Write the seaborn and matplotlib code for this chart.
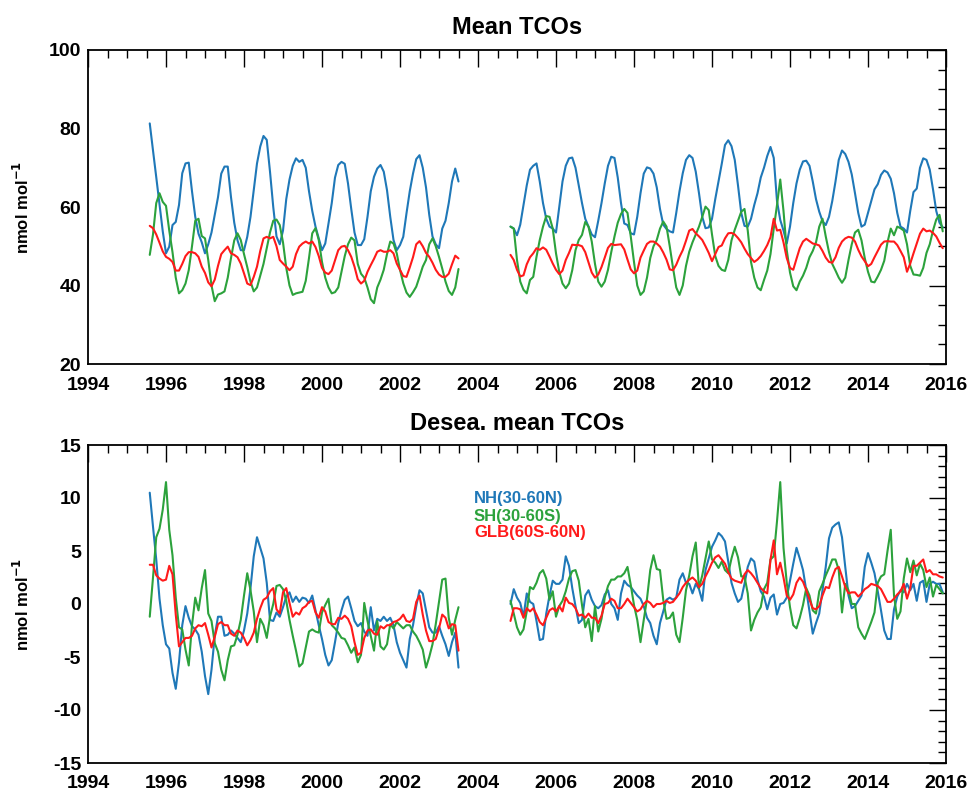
import numpy as np
import pandas as pd
import matplotlib
matplotlib.use("Agg")
import matplotlib.pyplot as plt
import seaborn as sns
from matplotlib.ticker import MultipleLocator

# ---------------- data (monthly means) ----------------
seg1_start, seg1_n = "1995-08", 96   # Aug 1995 .. Jul 2003
seg2_start, seg2_n = "2004-11", 134  # Nov 2004 .. Dec 2015

# Top panel: mean TCOs (nmol mol-1)
nh_mean_1 = [81.3, 74.4, 67.6, 60.7, 53.8, 48.2, 49.9, 55.4, 56.2, 60.5, 68.6, 71.1,
             71.3, 64.0, 57.5, 53.2, 51.0, 48.2, 50.5, 53.5, 58.0, 62.5, 68.5, 70.3,
             70.3, 62.5, 56.0, 51.5, 49.0, 49.0, 52.4, 57.5, 64.3, 71.1, 75.4, 78.1,
             77.1, 69.0, 60.0, 52.5, 50.5, 54.0, 62.0, 67.0, 70.5, 72.4, 71.5, 72.0,
             70.0, 64.0, 59.0, 55.0, 52.0, 49.0, 50.7, 55.8, 61.0, 67.5, 70.7, 71.5,
             71.0, 66.0, 59.5, 53.5, 50.3, 50.3, 51.8, 57.5, 64.0, 67.7, 69.8, 70.7,
             69.0, 64.3, 57.5, 51.6, 49.0, 50.3, 52.4, 58.4, 64.0, 68.5, 72.2, 73.2,
             70.0, 65.0, 58.0, 52.5, 50.5, 49.5, 54.5, 56.5, 61.0, 66.5, 69.8, 66.5]
sh_mean_1 = [47.8, 53.0, 61.0, 63.5, 61.3, 60.3, 54.0, 48.5, 42.0, 38.0, 38.8, 40.5,
             43.9, 50.0, 56.5, 57.0, 52.6, 52.0, 46.5, 40.0, 36.0, 37.7, 38.0, 38.5,
             42.0, 47.0, 51.5, 53.3, 51.6, 48.0, 44.7, 41.0, 38.5, 39.5, 42.5, 45.5,
             49.5, 53.5, 56.5, 56.8, 55.4, 51.0, 44.5, 40.0, 37.6, 38.0, 38.2, 38.4,
             41.2, 47.0, 53.3, 54.6, 51.6, 46.0, 42.0, 39.5, 38.0, 38.3, 39.5, 43.5,
             47.5, 50.5, 52.2, 51.5, 45.5, 43.0, 42.0, 39.5, 36.5, 35.5, 39.5, 41.5,
             44.0, 48.0, 51.2, 50.7, 48.2, 44.0, 40.6, 38.2, 37.1, 38.3, 39.7, 42.2,
             44.8, 46.5, 50.5, 52.0, 50.0, 47.3, 44.3, 41.0, 38.6, 37.6, 39.5, 44.2]
glb_mean_1 = [55.2, 54.6, 53.0, 50.9, 48.7, 47.3, 46.8, 46.0, 43.8, 43.8, 45.5, 47.5,
              48.5, 48.5, 48.2, 47.3, 44.8, 43.2, 40.8, 39.8, 41.5, 45.0, 48.0, 49.0,
              49.9, 48.2, 47.8, 47.2, 45.6, 43.1, 40.5, 40.1, 42.2, 44.8, 48.8, 52.0,
              52.4, 52.0, 52.4, 50.0, 46.5, 45.6, 44.8, 43.9, 44.8, 48.0, 49.9, 50.7,
              51.2, 50.7, 51.2, 49.8, 47.5, 44.5, 43.3, 42.9, 43.8, 46.4, 49.0, 49.9,
              50.1, 49.0, 47.3, 44.8, 41.6, 40.5, 41.2, 43.5, 45.2, 46.8, 48.6, 49.0,
              48.6, 48.6, 49.0, 48.2, 45.6, 44.0, 42.4, 42.2, 44.6, 47.2, 50.5, 51.3,
              50.0, 48.3, 47.3, 45.8, 44.0, 42.8, 42.2, 42.2, 43.0, 45.4, 47.6, 46.9]

nh_mean_2 = [55.0, 54.5, 52.8, 55.5, 60.5, 65.5, 69.5, 70.5, 71.1, 66.5, 61.0, 57.0,
             55.0, 54.5, 53.5, 60.0, 66.5, 70.5, 72.4, 72.6, 70.0, 65.5, 61.0, 57.0,
             55.0, 53.0, 52.3, 56.5, 61.0, 66.0, 70.5, 72.8, 72.5, 67.5, 61.0, 55.8,
             55.4, 53.3, 53.0, 57.5, 63.5, 68.5, 70.1, 69.8, 68.5, 65.0, 59.5, 55.5,
             54.4, 53.8, 53.5, 58.5, 64.0, 68.6, 72.0, 73.2, 72.5, 69.0, 63.5, 57.5,
             54.6, 54.8, 57.0, 62.0, 66.5, 71.0, 75.8, 77.0, 75.5, 72.0, 65.5, 58.5,
             55.2, 55.0, 57.0, 60.5, 63.5, 67.5, 70.0, 73.0, 75.3, 72.5, 61.5, 56.7,
             54.0, 50.7, 55.0, 61.0, 66.0, 69.5, 71.6, 71.8, 70.5, 66.5, 62.0, 58.8,
             56.4, 55.4, 57.5, 61.5, 66.5, 72.0, 74.4, 73.5, 71.5, 68.3, 63.5, 58.5,
             55.0, 55.5, 58.5, 61.5, 64.5, 65.8, 68.2, 69.3, 68.8, 67.2, 63.5, 58.5,
             55.0, 54.5, 53.5, 59.0, 63.8, 64.7, 70.0, 72.4, 72.0, 69.5, 64.5, 59.0,
             56.0, 54.8]
sh_mean_2 = [55.0, 54.5, 46.5, 41.0, 38.9, 38.0, 41.4, 42.2, 47.3, 51.6, 55.0, 57.7,
             57.5, 54.5, 48.2, 43.5, 40.5, 39.3, 40.5, 43.9, 49.0, 51.6, 52.9, 56.2,
             55.0, 51.2, 45.5, 41.0, 39.7, 41.0, 44.0, 48.5, 52.5, 56.0, 58.2, 59.5,
             58.5, 52.5, 46.0, 40.0, 37.6, 38.5, 42.0, 47.0, 50.0, 51.6, 54.5, 56.3,
             55.0, 50.0, 44.5, 39.5, 37.6, 40.0, 45.0, 48.6, 51.0, 53.0, 55.0, 57.5,
             60.1, 59.2, 53.0, 47.5, 45.0, 44.0, 43.7, 46.5, 51.5, 54.2, 56.5, 58.8,
             59.5, 54.0, 46.0, 42.0, 39.5, 38.8, 41.4, 43.8, 48.0, 54.5, 60.5, 67.0,
             59.0, 49.0, 43.3, 39.8, 38.8, 41.0, 42.5, 44.5, 47.2, 48.8, 51.0, 55.0,
             57.0, 52.5, 48.5, 45.5, 43.8, 42.0, 40.7, 42.0, 46.5, 50.5, 53.5, 54.2,
             51.5, 47.0, 43.5, 41.0, 40.8, 42.3, 44.0, 46.3, 51.0, 54.5, 52.8, 55.0,
             54.6, 54.0, 50.5, 45.0, 42.8, 42.7, 42.5, 44.5, 48.3, 50.5, 54.0, 56.8,
             58.0, 53.8]
glb_mean_2 = [47.8, 46.5, 44.0, 42.3, 42.6, 45.4, 47.2, 48.2, 49.5, 49.1, 49.7, 49.1,
              47.4, 45.6, 44.0, 42.9, 43.8, 46.5, 48.3, 50.4, 50.3, 50.3, 50.0, 48.5,
              45.9, 43.3, 42.0, 42.8, 44.7, 47.1, 49.6, 50.6, 50.3, 50.4, 50.5, 49.2,
              46.6, 44.1, 43.1, 43.8, 47.1, 48.9, 50.6, 51.2, 51.2, 50.7, 49.9, 48.4,
              46.6, 44.1, 43.9, 45.3, 47.3, 49.0, 51.4, 54.0, 54.4, 53.3, 52.5, 51.6,
              50.0, 48.3, 46.2, 48.0, 49.8, 50.2, 52.0, 53.3, 53.4, 53.0, 52.1, 51.0,
              49.4, 48.0, 47.0, 46.0, 46.6, 47.5, 48.8, 50.3, 52.3, 57.0, 54.0, 54.2,
              51.0, 47.0, 44.5, 44.0, 46.8, 49.5, 51.2, 51.9, 51.3, 50.7, 50.5, 50.2,
              48.8, 47.1, 46.0, 45.8, 47.2, 49.6, 51.2, 52.0, 52.4, 52.2, 51.2, 49.1,
              47.4, 46.2, 44.9, 45.5, 47.2, 48.8, 50.4, 51.2, 51.3, 51.2, 51.2, 50.3,
              48.8, 47.2, 43.5, 45.6, 48.2, 50.7, 53.2, 54.5, 53.8, 54.0, 53.4, 52.5,
              50.9, 49.5]

# Bottom panel: deseasonalised mean TCOs (nmol mol-1)
nh_des_1 = [10.5, 7.3, 4.2, 0.5, -2.0, -3.8, -4.2, -6.5, -8.0, -5.5, -2.0, -0.2,
            -1.3, -2.1, -2.4, -2.9, -4.5, -6.8, -8.5, -6.2, -3.0, -1.2, -1.2, -3.0,
            -2.9, -2.5, -2.8, -3.2, -3.6, -2.5, -0.9, 1.5, 4.5, 6.3, 5.3, 4.3,
            2.0, -1.5, -1.6, -0.8, -1.2, -0.3, 0.7, 1.1, 0.2, 0.7, 0.2, 0.6,
            0.5, 0.1, 0.8, -0.6, -2.0, -3.3, -4.8, -5.8, -5.3, -3.6, -1.8, -0.6,
            0.4, 0.7, -0.4, -1.6, -2.1, -1.8, -2.6, -3.0, -0.3, -2.5, -1.4, -1.6,
            -1.2, -1.6, -1.3, -2.0, -3.6, -4.6, -5.3, -6.0, -3.3, -2.0, -0.2, 1.3,
            1.0, -0.6, -2.2, -2.7, -2.7, -2.1, -3.0, -3.8, -4.9, -3.6, -2.7, -6.0]
sh_des_1 = [-1.2, 2.5, 6.3, 7.1, 8.9, 11.5, 7.0, 4.6, 0.6, -2.2, -2.4, -4.3,
            -5.8, -2.0, 0.6, -0.6, 1.5, 3.2, -0.9, -1.6, -3.7, -4.5, -6.2, -7.2,
            -5.3, -4.0, -3.9, -2.9, -1.5, 0.8, 2.9, 1.3, -0.7, -3.6, -1.4, -2.0,
            -3.2, -1.2, 0.0, 1.7, 1.8, 1.4, 0.3, -1.5, -3.0, -4.4, -5.9, -5.6,
            -4.1, -2.6, -2.4, -2.6, -2.7, -0.8, -0.1, 0.5, -2.0, -2.3, -2.7, -3.2,
            -3.3, -3.9, -4.6, -4.1, -5.5, -4.8, 0.1, -1.6, -3.0, -4.4, -1.6, -4.0,
            -4.3, -3.8, -1.9, -2.3, -1.7, -2.0, -2.3, -2.0, -2.0, -2.6, -3.0, -3.6,
            -4.3, -6.0, -5.0, -3.8, -1.9, 0.2, 2.3, 2.4, -1.3, -2.9, -1.5, -0.3]
glb_des_1 = [3.7, 3.7, 2.7, 2.4, 2.2, 2.3, 3.6, 2.8, -1.0, -4.0, -3.6, -3.2,
             -3.2, -3.0, -2.3, -2.0, -2.1, -1.8, -2.9, -4.1, -3.1, -1.9, -1.7, -2.0,
             -2.0, -2.8, -3.0, -2.5, -2.7, -3.2, -3.9, -3.4, -2.7, -1.4, -0.4, 0.4,
             0.6, 1.2, 1.5, -0.5, -0.9, 1.1, 1.5, 0.1, -1.2, -0.8, -1.0, -0.4,
             -0.2, 0.2, 0.3, -0.8, -1.3, -0.3, -0.7, -1.7, -1.9, -1.9, -1.3, -1.4,
             -1.1, -1.4, -2.1, -3.6, -4.8, -4.6, -3.2, -2.5, -2.4, -2.8, -2.9, -2.1,
             -2.3, -2.0, -2.0, -1.7, -1.6, -1.4, -1.0, -1.6, -1.7, -1.4, 0.2, 0.8,
             -1.0, -2.5, -3.5, -3.5, -3.3, -2.3, -1.0, -1.3, -2.3, -1.9, -2.0, -4.4]

nh_des_2 = [0.0, 1.4, 0.6, 0.1, -1.2, 1.0, 0.2, 0.0, -1.6, -3.4, -3.3, -0.9,
            0.8, 2.2, 1.9, 1.9, 2.3, 4.5, 3.6, 1.5, -0.2, -1.8, -1.5, 0.8,
            1.3, 0.4, -0.2, -0.4, -0.1, 0.9, 1.3, 0.0, -0.4, -1.5, 1.0, 2.2,
            1.8, 1.6, 1.2, 0.8, 0.5, -0.2, -1.3, -1.8, -3.0, -3.8, -1.8, -0.7,
            0.4, 0.6, 0.4, 0.6, 2.3, 2.9, 2.0, 1.9, 1.0, 1.9, 1.4, 0.3,
            3.2, 4.3, 5.4, 6.0, 6.7, 6.4, 5.9, 4.0, 2.0, 1.0, 0.2, 0.5,
            1.9, 3.5, 4.3, 4.0, 2.3, 1.2, 0.7, -0.5, 0.6, 0.9, -1.0, 0.0,
            0.1, 0.6, 2.2, 3.8, 5.3, 4.3, 3.2, 1.3, -0.7, -2.8, -1.8, -0.9,
            1.3, 3.5, 6.2, 7.2, 7.5, 7.7, 6.3, 3.5, 0.8, -0.4, -0.2, 0.3,
            0.8, 3.5, 4.8, 3.9, 2.9, 1.2, -0.6, -2.5, -3.3, -3.3, -0.5, 0.7,
            1.3, 1.1, 1.9, 1.3, 1.9, 0.3, 2.0, 2.2, 0.2, 1.9, 2.1, 1.9,
            1.9, 1.1]
sh_des_2 = [0.3, -0.9, -2.2, -2.9, -2.4, -0.7, 1.6, 1.4, 2.0, 2.9, 3.2, 2.4,
            0.4, 1.2, -1.2, -0.2, 0.3, 1.2, 2.4, 3.1, 3.2, 2.2, -0.1, -2.2,
            -1.4, -3.5, -0.2, -2.6, -1.4, 0.6, 1.7, 2.3, 2.3, 2.6, 2.6, 2.9,
            3.5, 1.8, -0.1, -1.5, -3.6, -1.5, 0.5, 3.2, 4.6, 3.3, 3.2, 0.4,
            -1.4, -1.3, -0.8, -2.9, -3.6, -1.3, 1.3, 2.7, 4.5, 5.8, 1.5, 2.7,
            4.3, 5.9, 4.2, 3.9, 3.4, 4.0, 3.2, 2.9, 4.3, 5.4, 4.4, 2.6,
            2.6, 1.0, -2.5, -1.5, -0.8, -0.3, 1.4, 2.0, 4.2, 4.5, 7.8, 11.5,
            5.3, 2.0, -0.3, -2.0, -2.3, -1.3, -0.1, 1.5, 0.8, -0.6, -0.9, 1.2,
            1.9, 2.7, 3.4, 4.2, 4.2, 3.2, -0.8, 1.9, 1.3, 0.0, 0.0, -2.2,
            -2.8, -3.3, -2.5, -1.7, -0.8, 2.0, 2.6, 2.8, 5.0, 7.0, 0.8, -1.4,
            -0.7, 2.4, 4.3, 3.0, 4.1, 2.7, 3.8, 3.2, 1.6, 2.5, 0.7, 1.8,
            1.4, 1.0]
glb_des_2 = [-1.6, -0.4, -0.4, -0.5, -1.3, -0.4, -0.7, -0.4, -1.0, -1.7, -2.0, -1.3,
             -0.6, -0.4, -0.7, -0.2, -0.7, 0.6, 0.1, 0.0, -0.4, -1.1, -1.0, -1.3,
             -0.9, -1.3, -1.3, -1.8, -1.1, 0.0, 0.1, 0.5, 0.3, -0.4, -0.4, 0.0,
             0.5, 0.1, -0.3, -0.7, -0.5, 0.0, 0.3, 0.1, -0.3, 0.0, 0.0, 0.1,
             0.3, 0.1, 0.2, 0.6, 1.0, 1.6, 2.0, 2.3, 2.5, 2.2, 1.6, 1.9,
             2.6, 3.2, 3.9, 4.4, 4.6, 4.2, 3.8, 3.0, 2.4, 2.2, 2.1, 2.0,
             2.8, 3.2, 2.9, 2.5, 2.0, 1.5, 1.2, 1.0, 4.2, 6.0, 2.8, 3.9,
             2.5, 0.8, 0.4, 0.9, 2.0, 2.5, 2.1, 1.3, 0.4, -0.4, -0.5, -0.2,
             0.8, 1.6, 1.5, 2.5, 3.3, 3.5, 2.6, 1.6, 1.0, 1.1, 1.1, 0.7,
             1.0, 1.4, 1.6, 1.9, 1.8, 1.7, 1.4, 0.8, 0.2, 0.2, 0.5, 0.9,
             1.2, 1.9, 0.5, 1.5, 3.6, 3.6, 3.9, 4.2, 3.0, 3.2, 2.8, 2.8,
             2.6, 2.5]

series_names = ["NH", "SH", "GLB"]
legend_labels = ["NH(30-60N)", "SH(30-60S)", "GLB(60S-60N)"]
colors = {"NH": "#1f78b8", "SH": "#2ca23c", "GLB": "#ff1a1a"}

x_ticks = list(range(1994, 2017, 2))
top_yticks = [20, 40, 60, 80, 100]
bot_yticks = [-15, -10, -5, 0, 5, 10, 15]


def decimal_years(start, n):
    d = pd.date_range(start, periods=n, freq="MS")
    return d.year + (d.month - 1) / 12.0


t1 = decimal_years(seg1_start, seg1_n)
t2 = decimal_years(seg2_start, seg2_n)


def build(frames):
    rows = []
    for name, (a, b) in frames.items():
        assert len(a) == seg1_n, (name, len(a))
        assert len(b) == seg2_n, (name, len(b))
        rows.append(pd.DataFrame({"t": t1, "v": a, "series": name, "seg": 1}))
        rows.append(pd.DataFrame({"t": t2, "v": b, "series": name, "seg": 2}))
    return pd.concat(rows, ignore_index=True)


df_top = build({"NH": (nh_mean_1, nh_mean_2), "SH": (sh_mean_1, sh_mean_2),
                "GLB": (glb_mean_1, glb_mean_2)})
df_bot = build({"NH": (nh_des_1, nh_des_2), "SH": (sh_des_1, sh_des_2),
                "GLB": (glb_des_1, glb_des_2)})

# ---------------- figure ----------------
sns.set_theme(style="white")
plt.rcParams["font.family"] = ["Liberation Sans", "DejaVu Sans"]
plt.rcParams["font.weight"] = "bold"
plt.rcParams["mathtext.default"] = "bf"
plt.rcParams["axes.unicode_minus"] = False
for k in ["text.color", "axes.labelcolor", "xtick.color", "ytick.color",
          "axes.edgecolor"]:
    plt.rcParams[k] = "black"

W, H = 971, 793
fig = plt.figure(figsize=(W / 100, H / 100), dpi=100)


def fax(l, t, r, b):
    return fig.add_axes([l / W, 1 - b / H, (r - l) / W, (b - t) / H])


ax1 = fax(88, 50, 946, 364)
ax2 = fax(88, 445, 946, 763)

for ax, d, ylim, yt, yminor in [(ax1, df_top, (20, 100), top_yticks, 5),
                                 (ax2, df_bot, (-15, 15), bot_yticks, 1)]:
    sns.lineplot(data=d, x="t", y="v", hue="series", units="seg", estimator=None,
                 hue_order=series_names, palette=colors, legend=False, sort=False,
                 linewidth=1.5, ax=ax)
    ax.set_xlim(1994, 2016)
    ax.set_ylim(*ylim)
    ax.set_xticks(x_ticks)
    ax.set_yticks(yt)
    ax.xaxis.set_minor_locator(MultipleLocator(0.5))
    ax.yaxis.set_minor_locator(MultipleLocator(yminor))
    ax.set_xlabel("")
    ax.set_ylabel("")
    ax.tick_params(which="both", direction="in", top=True, right=True,
                   color="black", width=1.0)
    ax.tick_params(which="major", length=12)
    ax.tick_params(which="minor", length=6)
    ax.tick_params(axis="x", which="major", pad=9, labelsize=14,
                   labelcolor="black")
    ax.tick_params(axis="y", which="major", pad=5, labelsize=14,
                   labelcolor="black")
    for lab in ax.get_xticklabels() + ax.get_yticklabels():
        lab.set_fontweight("bold")
    for s in ax.spines.values():
        s.set_color("black")
        s.set_linewidth(1.3)
    ax.grid(False)

cx = (88 + 946) / 2 / W
fig.text(cx, 1 - 27 / H, "Mean TCOs", ha="center", va="center",
         fontsize=17, fontweight="bold", color="black")
fig.text(cx, 1 - 423 / H, "Desea. mean TCOs", ha="center", va="center",
         fontsize=17, fontweight="bold", color="black")

for yc in [(50 + 364) / 2, (445 + 763) / 2]:
    fig.text(22 / W, 1 - yc / H, r"nmol mol$^{\mathbf{-1}}$", rotation=90,
             ha="center", va="center", fontsize=12, fontweight="bold",
             color="black")

for lab, name, yy in zip(legend_labels, series_names, [499, 516, 533]):
    fig.text(474 / W, 1 - yy / H, lab, color=colors[name], ha="left",
             va="center", fontsize=12, fontweight="bold")

fig.savefig("out.png", dpi=100)
